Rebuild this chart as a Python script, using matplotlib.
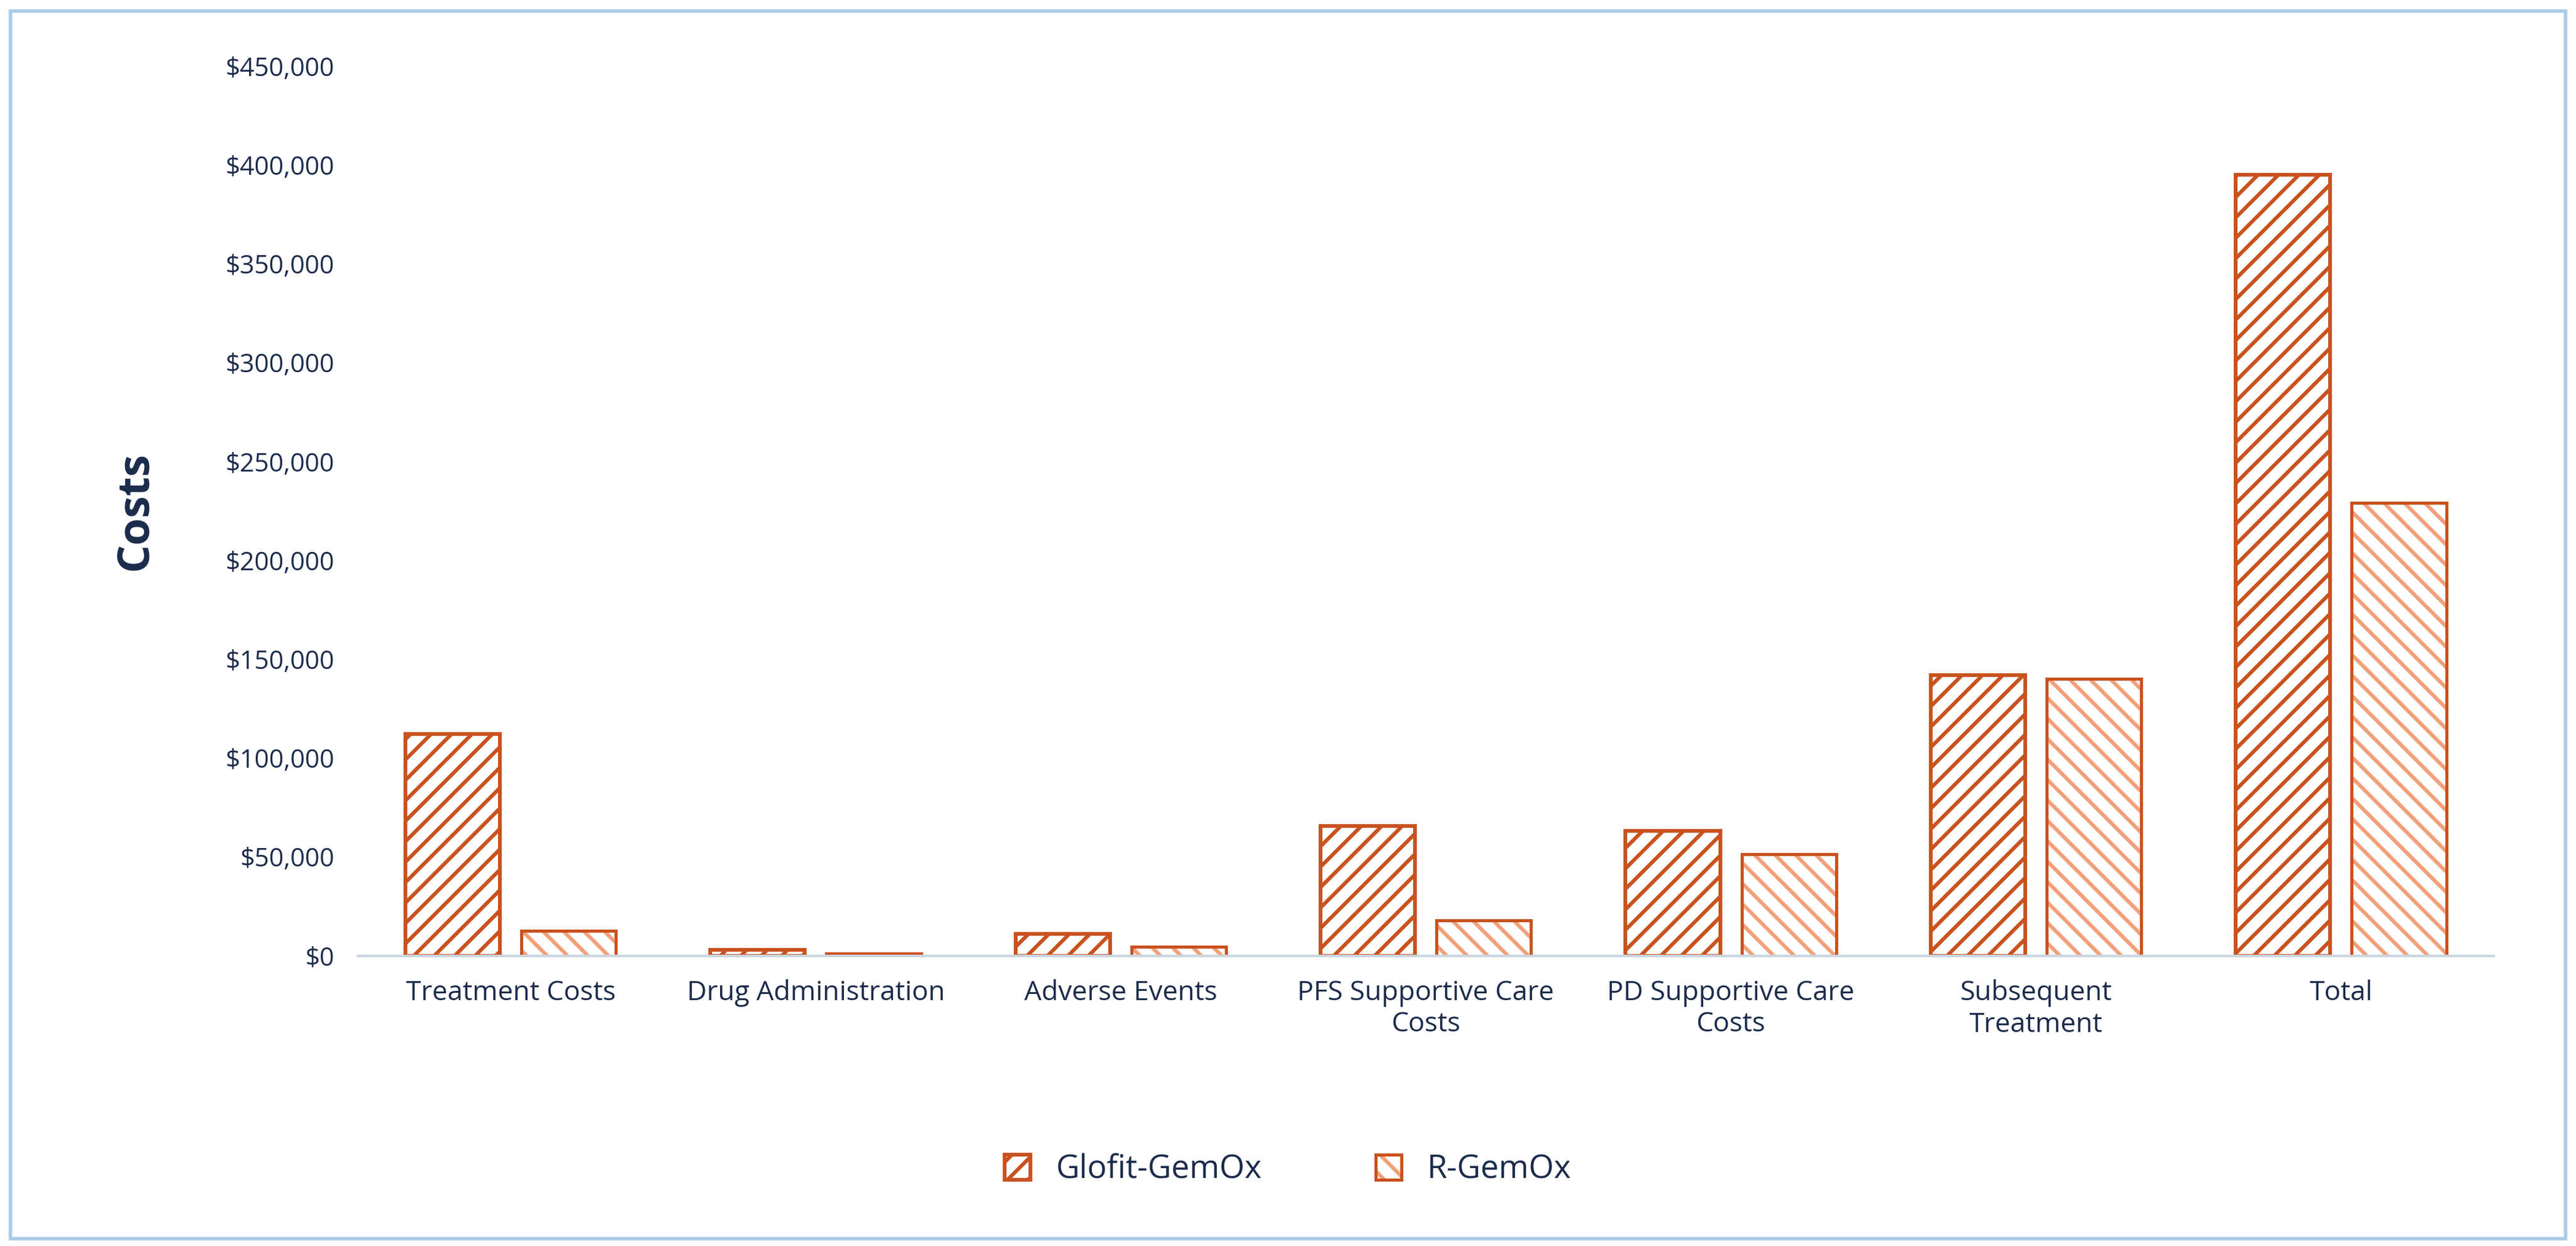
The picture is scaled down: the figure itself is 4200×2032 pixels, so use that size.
import matplotlib
matplotlib.use("Agg")
import matplotlib.pyplot as plt
import numpy as np
from matplotlib.patches import Rectangle

categories = ["Treatment Costs", "Drug Administration", "Adverse Events",
              "PFS Supportive Care\nCosts", "PD Supportive Care\nCosts",
              "Subsequent\nTreatment", "Total"]
glofit = [112000, 3000, 11000, 65500, 63000, 142000, 395000]
rgemox = [12500, 1200, 4500, 18000, 51500, 140000, 229000]
yticks = list(range(0, 450001, 50000))

plt.rcParams['font.family'] = ['Open Sans', 'DejaVu Sans']
plt.rcParams['hatch.linewidth'] = 2.2
navy = '#1B2B4B'
dark = '#C9521F'
light = '#F2A07A'

fig = plt.figure(figsize=(21, 10.16), dpi=200)
ax = fig.add_axes([0.139, 0.233, 0.829, 0.714])
x = np.arange(len(categories))
w = 0.31
plt.rcParams['hatch.color'] = dark
b1 = ax.bar(x - 0.19, glofit, w, facecolor='white', edgecolor=dark, linewidth=2.2,
            hatch='//', label='Glofit-GemOx')
b2 = ax.bar(x + 0.19, rgemox, w, facecolor='white', edgecolor=dark, linewidth=1.8,
            hatch='\\\\', label='R-GemOx')
for p in b2:
    p._hatch_color = matplotlib.colors.to_rgba(light)

ax.set_xlim(-0.5, len(categories) - 0.5)
ax.set_ylim(0, 450000)
ax.set_yticks(yticks)
ax.set_yticklabels([f"${v:,.0f}" for v in yticks], color=navy, fontsize=15)
ax.set_xticks(x)
ax.set_xticklabels(categories, color=navy, fontsize=16)
ax.tick_params(length=0, pad=14)
for s in ['top', 'right', 'left']:
    ax.spines[s].set_visible(False)
ax.spines['bottom'].set_color('#C9D6E3')
ax.spines['bottom'].set_linewidth(1.5)
ax.set_ylabel('Costs', fontsize=26, fontweight='bold', color=navy, labelpad=40)

leg = fig.legend(handles=[b1, b2], loc='center', bbox_to_anchor=(0.5, 0.061), ncol=2,
                 frameon=False, fontsize=19, handlelength=0.8, handleheight=0.8,
                 columnspacing=3.5)
for t in leg.get_texts():
    t.set_color(navy)

fig.patches.append(Rectangle((0.004, 0.006), 0.992, 0.985, transform=fig.transFigure,
                             fill=False, edgecolor='#A9CBE8', linewidth=2))
fig.savefig('out.png', dpi=200, facecolor='white')
